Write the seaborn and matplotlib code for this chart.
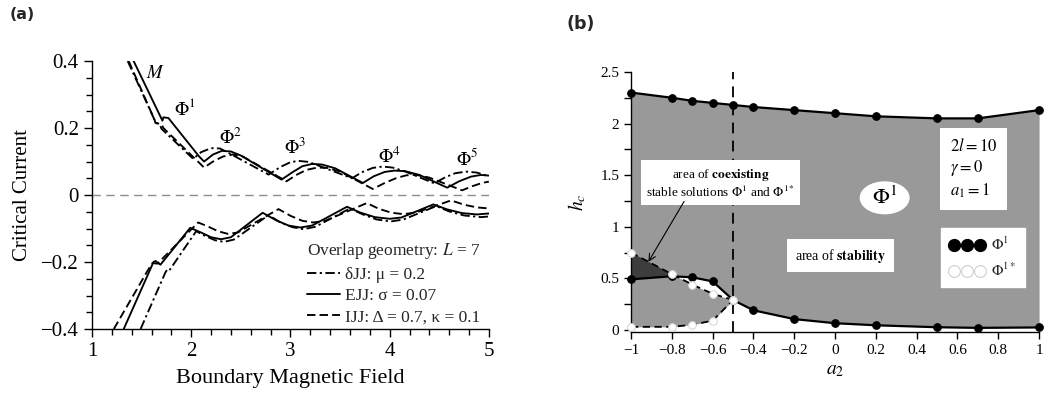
import numpy as np
import pandas as pd
import matplotlib
matplotlib.use("Agg")
import matplotlib.pyplot as plt
from matplotlib.lines import Line2D
from matplotlib.patches import Ellipse
from matplotlib.ticker import MultipleLocator
import seaborn as sns

# ---------------- panel (a): critical current vs boundary field ----------------
# delta-JJ (dash-dot), upper and lower branches
DJJ_UP_X = [1.36, 1.64, 1.66, 1.69, 1.70, 2.02, 2.10, 2.20, 2.29, 2.40, 2.78, 2.90, 3.00, 3.08,
            3.18, 3.30, 3.62, 3.72, 3.83, 3.93, 4.03, 4.15, 4.45, 4.56, 4.66, 4.77, 4.88, 5.00]
DJJ_UP_Y = [0.40, 0.218, 0.214, 0.206, 0.198, 0.108, 0.128, 0.140, 0.139, 0.122, 0.061, 0.084,
            0.098, 0.102, 0.099, 0.086, 0.050, 0.068, 0.081, 0.085, 0.082, 0.071, 0.035, 0.053,
            0.065, 0.070, 0.067, 0.056]
DJJ_LO_X = [1.49, 1.74, 1.76, 1.78, 2.05, 2.14, 2.24, 2.33, 2.43, 2.78, 2.90, 3.02, 3.13, 3.25,
            3.60, 3.73, 3.87, 4.01, 4.14, 4.47, 4.60, 4.75, 4.92, 5.00]
DJJ_LO_Y = [-0.40, -0.231, -0.222, -0.225, -0.108, -0.122, -0.135, -0.140, -0.133, -0.060,
            -0.082, -0.096, -0.102, -0.095, -0.040, -0.058, -0.073, -0.079, -0.073, -0.033,
            -0.049, -0.061, -0.066, -0.064]

# EJJ (solid)
EJJ_UP_X = [1.42, 1.71, 1.72, 1.77, 2.08, 2.13, 2.22, 2.31, 2.40, 2.50, 2.91, 3.02, 3.12, 3.22,
            3.32, 3.45, 3.73, 3.84, 3.95, 4.05, 4.16, 4.30, 4.58, 4.70, 4.82, 4.92, 5.00]
EJJ_UP_Y = [0.40, 0.222, 0.232, 0.230, 0.115, 0.100, 0.121, 0.132, 0.130, 0.118, 0.046, 0.068,
            0.086, 0.093, 0.091, 0.080, 0.036, 0.056, 0.069, 0.073, 0.071, 0.060, 0.022, 0.041,
            0.055, 0.060, 0.058]
EJJ_LO_X = [1.32, 1.62, 1.64, 1.69, 1.99, 2.10, 2.20, 2.30, 2.40, 2.72, 2.86, 2.98, 3.10, 3.22,
            3.57, 3.70, 3.85, 4.00, 4.12, 4.44, 4.58, 4.73, 4.88, 5.00]
EJJ_LO_Y = [-0.40, -0.200, -0.197, -0.208, -0.098, -0.112, -0.126, -0.132, -0.126, -0.053,
            -0.076, -0.091, -0.097, -0.091, -0.035, -0.052, -0.066, -0.071, -0.067, -0.028,
            -0.043, -0.054, -0.058, -0.055]

# IJJ (dashed)
IJJ_UP_X = [1.37, 1.63, 1.64, 1.70, 1.72, 2.13, 2.22, 2.32, 2.42, 2.52, 2.96, 3.06, 3.16, 3.27,
            3.37, 3.50, 3.83, 3.95, 4.07, 4.17, 4.27, 4.40, 4.73, 4.83, 4.93, 5.00]
IJJ_UP_Y = [0.40, 0.225, 0.215, 0.212, 0.200, 0.082, 0.100, 0.115, 0.121, 0.115, 0.041, 0.060,
            0.075, 0.082, 0.081, 0.070, 0.018, 0.036, 0.051, 0.059, 0.060, 0.052, 0.014, 0.026,
            0.036, 0.040]
IJJ_LO_X = [1.22, 1.59, 1.61, 1.66, 2.07, 2.17, 2.27, 2.37, 2.47, 2.88, 3.00, 3.12, 3.23, 3.35,
            3.77, 3.89, 4.02, 4.14, 4.27, 4.62, 4.75, 4.88, 5.00]
IJJ_LO_Y = [-0.40, -0.211, -0.203, -0.205, -0.082, -0.094, -0.108, -0.116, -0.112, -0.042,
            -0.062, -0.077, -0.082, -0.077, -0.024, -0.041, -0.053, -0.057, -0.052, -0.016,
            -0.029, -0.037, -0.040]

MODELS = ["δJJ", "EJJ", "IJJ"]
MODEL_LABELS = ["δJJ: μ = 0.2", "EJJ: σ = 0.07", "IJJ: Δ = 0.7, κ = 0.1"]
BRANCH_LABELS = [("$M$", 1.635, 0.363), (r"$\Phi^1$", 1.94, 0.257), (r"$\Phi^2$", 2.40, 0.171),
                 (r"$\Phi^3$", 3.05, 0.141), (r"$\Phi^4$", 4.00, 0.114), (r"$\Phi^5$", 4.78, 0.108)]

# ---------------- panel (b): stability diagram ----------------
A2 = [-1.0, -0.8, -0.7, -0.6, -0.5, -0.4, -0.2, 0.0, 0.2, 0.5, 0.7, 1.0]
HC_UPPER = [2.30, 2.25, 2.22, 2.20, 2.18, 2.16, 2.13, 2.10, 2.07, 2.05, 2.05, 2.13]
HC_LOWER = [0.49, 0.52, 0.51, 0.47, 0.29, 0.19, 0.105, 0.065, 0.045, 0.026, 0.02, 0.024]
A2_STAR = [-1.0, -0.8, -0.7, -0.6, -0.5]
HC_STAR_UPPER = [0.75, 0.54, 0.44, 0.35, 0.29]
HC_STAR_LOWER = [0.03, 0.03, 0.05, 0.09, 0.29]

GRAY = "#999999"
DARK = "#3d3d3d"

sns.set_theme(style="ticks")
plt.rcParams["font.family"] = ["Liberation Serif", "DejaVu Serif"]
plt.rcParams["mathtext.fontset"] = "stix"
plt.rcParams["axes.unicode_minus"] = True

fig = plt.figure(figsize=(10.5, 3.94), dpi=100)
ax1 = fig.add_axes([0.0876, 0.165, 0.378, 0.680])
ax2 = fig.add_axes([0.601, 0.1574, 0.3886, 0.66])

# ---- panel (a) ----
curves = [("δJJ", "up", DJJ_UP_X, DJJ_UP_Y), ("δJJ", "lo", DJJ_LO_X, DJJ_LO_Y),
          ("EJJ", "up", EJJ_UP_X, EJJ_UP_Y), ("EJJ", "lo", EJJ_LO_X, EJJ_LO_Y),
          ("IJJ", "up", IJJ_UP_X, IJJ_UP_Y), ("IJJ", "lo", IJJ_LO_X, IJJ_LO_Y)]
frames = []
for model, branch, xs, ys in curves:
    frames.append(pd.DataFrame({"field": xs, "current": ys, "model": model,
                                "curve": f"{model}-{branch}"}))
df = pd.concat(frames, ignore_index=True)

DASHES = {"δJJ": (5.0, 1.8, 1.2, 1.8), "EJJ": "", "IJJ": (4.5, 2.2)}
LW = 1.35
ax1.axhline(0, color="#8c8c8c", lw=1.0, linestyle=(0, (6, 4)), zorder=1)
sns.lineplot(data=df, x="field", y="current", style="model", units="curve", estimator=None,
             sort=False, color="black", linewidth=LW, dashes=DASHES, style_order=MODELS,
             legend=False, ax=ax1)

ax1.set_xlim(1, 5)
ax1.set_ylim(-0.4, 0.4)
ax1.set_xticks([1, 2, 3, 4, 5])
ax1.set_xticklabels(["1", "2", "3", "4", "5"])
ax1.set_yticks([-0.4, -0.2, 0, 0.2, 0.4])
ax1.set_yticklabels(["\u22120.4", "\u22120.2", "0", "0.2", "0.4"])
ax1.xaxis.set_minor_locator(MultipleLocator(0.2))
ax1.yaxis.set_minor_locator(MultipleLocator(0.05))
ax1.tick_params(which="major", direction="out", length=6, width=1.0, labelsize=15,
                color="black", labelcolor="black")
ax1.tick_params(which="minor", direction="out", length=4, width=1.0, color="black")
sns.despine(ax=ax1)
for s in ("left", "bottom"):
    ax1.spines[s].set_color("black")
    ax1.spines[s].set_linewidth(1.0)
ax1.set_xlabel("Boundary Magnetic Field", fontsize=16, color="black")
ax1.set_ylabel("Critical Current", fontsize=15, color="black")
ax1.xaxis.set_label_coords(0.5, -0.15)
ax1.yaxis.set_label_coords(-0.15, 0.5)
ax1.set_facecolor("white")

for txt, x, y in BRANCH_LABELS:
    ax1.text(x, y, txt, fontsize=13.5, ha="center", va="center", color="black")

handles = [Line2D([], [], color="black", lw=LW, dashes=DASHES["δJJ"]),
           Line2D([], [], color="black", lw=LW),
           Line2D([], [], color="black", lw=LW, dashes=DASHES["IJJ"])]
leg = ax1.legend(handles, MODEL_LABELS, title="Overlap geometry: $L$ = 7", loc="upper left",
                 bbox_to_anchor=(0.52, 0.36), frameon=False, fontsize=12.5, title_fontsize=12.5,
                 handlelength=1.9, handletextpad=0.3, labelspacing=0.3, borderpad=0,
                 alignment="left")

# ---- panel (b) ----
ax2.fill_between(A2, HC_LOWER, HC_UPPER, color=GRAY, lw=0, zorder=1)
ax2.fill_between(A2_STAR, HC_STAR_LOWER, HC_STAR_UPPER, color=GRAY, lw=0, zorder=1)
low_sub = np.array(HC_LOWER[:len(A2_STAR)])
star_up = np.array(HC_STAR_UPPER)
ax2.fill_between(A2_STAR, low_sub, star_up, where=star_up >= low_sub, interpolate=True,
                 color=DARK, lw=0, zorder=1.5)

ax2.axvline(-0.5, color="black", lw=1.3, linestyle=(0, (6, 4)), zorder=2)

black_kw = dict(color="black", linewidth=1.6, marker="o", markersize=5.5,
                markerfacecolor="black", markeredgecolor="black", clip_on=False,
                estimator=None, legend=False, ax=ax2)
sns.lineplot(x=A2, y=HC_UPPER, zorder=3, **black_kw)
sns.lineplot(x=A2, y=HC_LOWER, zorder=3, **black_kw)
white_kw = dict(color="black", linewidth=1.3, linestyle=(0, (4, 2.5)), marker="o",
                markersize=5.5, markerfacecolor="white", markeredgecolor="#d8d8d8",
                markeredgewidth=0.8, clip_on=False, estimator=None, legend=False, ax=ax2)
sns.lineplot(x=A2_STAR, y=HC_STAR_UPPER, zorder=4, **white_kw)
sns.lineplot(x=A2_STAR, y=HC_STAR_LOWER, zorder=4, **white_kw)

ax2.set_xlim(-1, 1)
ax2.set_ylim(-0.02, 2.5)
xt = [-1, -0.8, -0.6, -0.4, -0.2, 0, 0.2, 0.4, 0.6, 0.8, 1]
ax2.set_xticks(xt)
ax2.set_xticklabels([("\u2212" + f"{abs(v):g}") if v < 0 else f"{v:g}" for v in xt])
yt = [0, 0.5, 1, 1.5, 2, 2.5]
ax2.set_yticks(yt)
ax2.set_yticklabels([f"{v:g}" for v in yt])
ax2.yaxis.set_minor_locator(MultipleLocator(0.25))
ax2.tick_params(which="both", direction="out", length=5, width=1.0, labelsize=11,
                color="black", labelcolor="black")
sns.despine(ax=ax2)
for s in ("left", "bottom"):
    ax2.spines[s].set_color("black")
    ax2.spines[s].set_linewidth(1.0)
ax2.set_xlabel("$a_2$", fontsize=14, color="black")
ax2.set_ylabel("$h_c$", fontsize=14, color="black")
ax2.xaxis.set_label_coords(0.5, -0.115)
ax2.yaxis.set_label_coords(-0.105, 0.5)
ax2.set_facecolor("white")

ax2.text(-0.561, 1.42, "area of $\\mathbf{coexisting}$\nstable solutions $\\Phi^{1}$ and $\\Phi^{1*}$",
         fontsize=9.5, ha="center", va="center", multialignment="center", color="black",
         zorder=5, bbox=dict(boxstyle="square,pad=0.35", fc="white", ec="none"))
ax2.annotate("", xy=(-0.915, 0.66), xytext=(-0.74, 1.245),
             arrowprops=dict(arrowstyle="->", color="black", lw=0.8, shrinkA=0, shrinkB=0),
             zorder=5)
ax2.text(0.027, 0.72, "area of $\\mathbf{stability}$", fontsize=10, ha="center", va="center",
         color="black", zorder=5,
         bbox=dict(boxstyle="square,pad=0.55", fc="white", ec="none"))
ax2.add_patch(Ellipse((0.243, 1.28), 0.245, 0.32, fc="white", ec="none", zorder=5))
ax2.text(0.243, 1.28, r"$\Phi^1$", fontsize=16, ha="center", va="center", color="black",
         zorder=6)
ax2.text(0.68, 1.56, "$2l = 10$\n$\\gamma = 0$\n$a_1 = 1$", fontsize=12, ha="center",
         va="center", multialignment="left", color="black", zorder=5, linespacing=1.25,
         bbox=dict(boxstyle="square,pad=0.6", fc="white", ec="none"))

leg_handles = [Line2D([], [], ls="none", marker="o", ms=8.5, mfc="black", mec="black"),
               Line2D([], [], ls="none", marker="o", ms=8.5, mfc="white", mec="#cfcfcf",
                      mew=0.8)]
leg2 = ax2.legend(leg_handles, [r"$\Phi^1$", r"$\Phi^{1*}$"], numpoints=3, loc="upper left",
                  bbox_to_anchor=(0.742, 0.431), fontsize=11, handlelength=2.3,
                  handletextpad=0.4, labelspacing=0.55, borderpad=0.55, frameon=True,
                  fancybox=False, framealpha=1.0, edgecolor="white", facecolor="white")
leg2.set_zorder(6)

fig.text(0.009, 0.962, "(a)", fontsize=11.5, fontweight="bold", family="DejaVu Sans",
         va="center")
fig.text(0.54, 0.94, "(b)", fontsize=12.5, fontweight="bold", family="DejaVu Sans",
         va="center")

fig.savefig("out.png", dpi=100, facecolor="white")
